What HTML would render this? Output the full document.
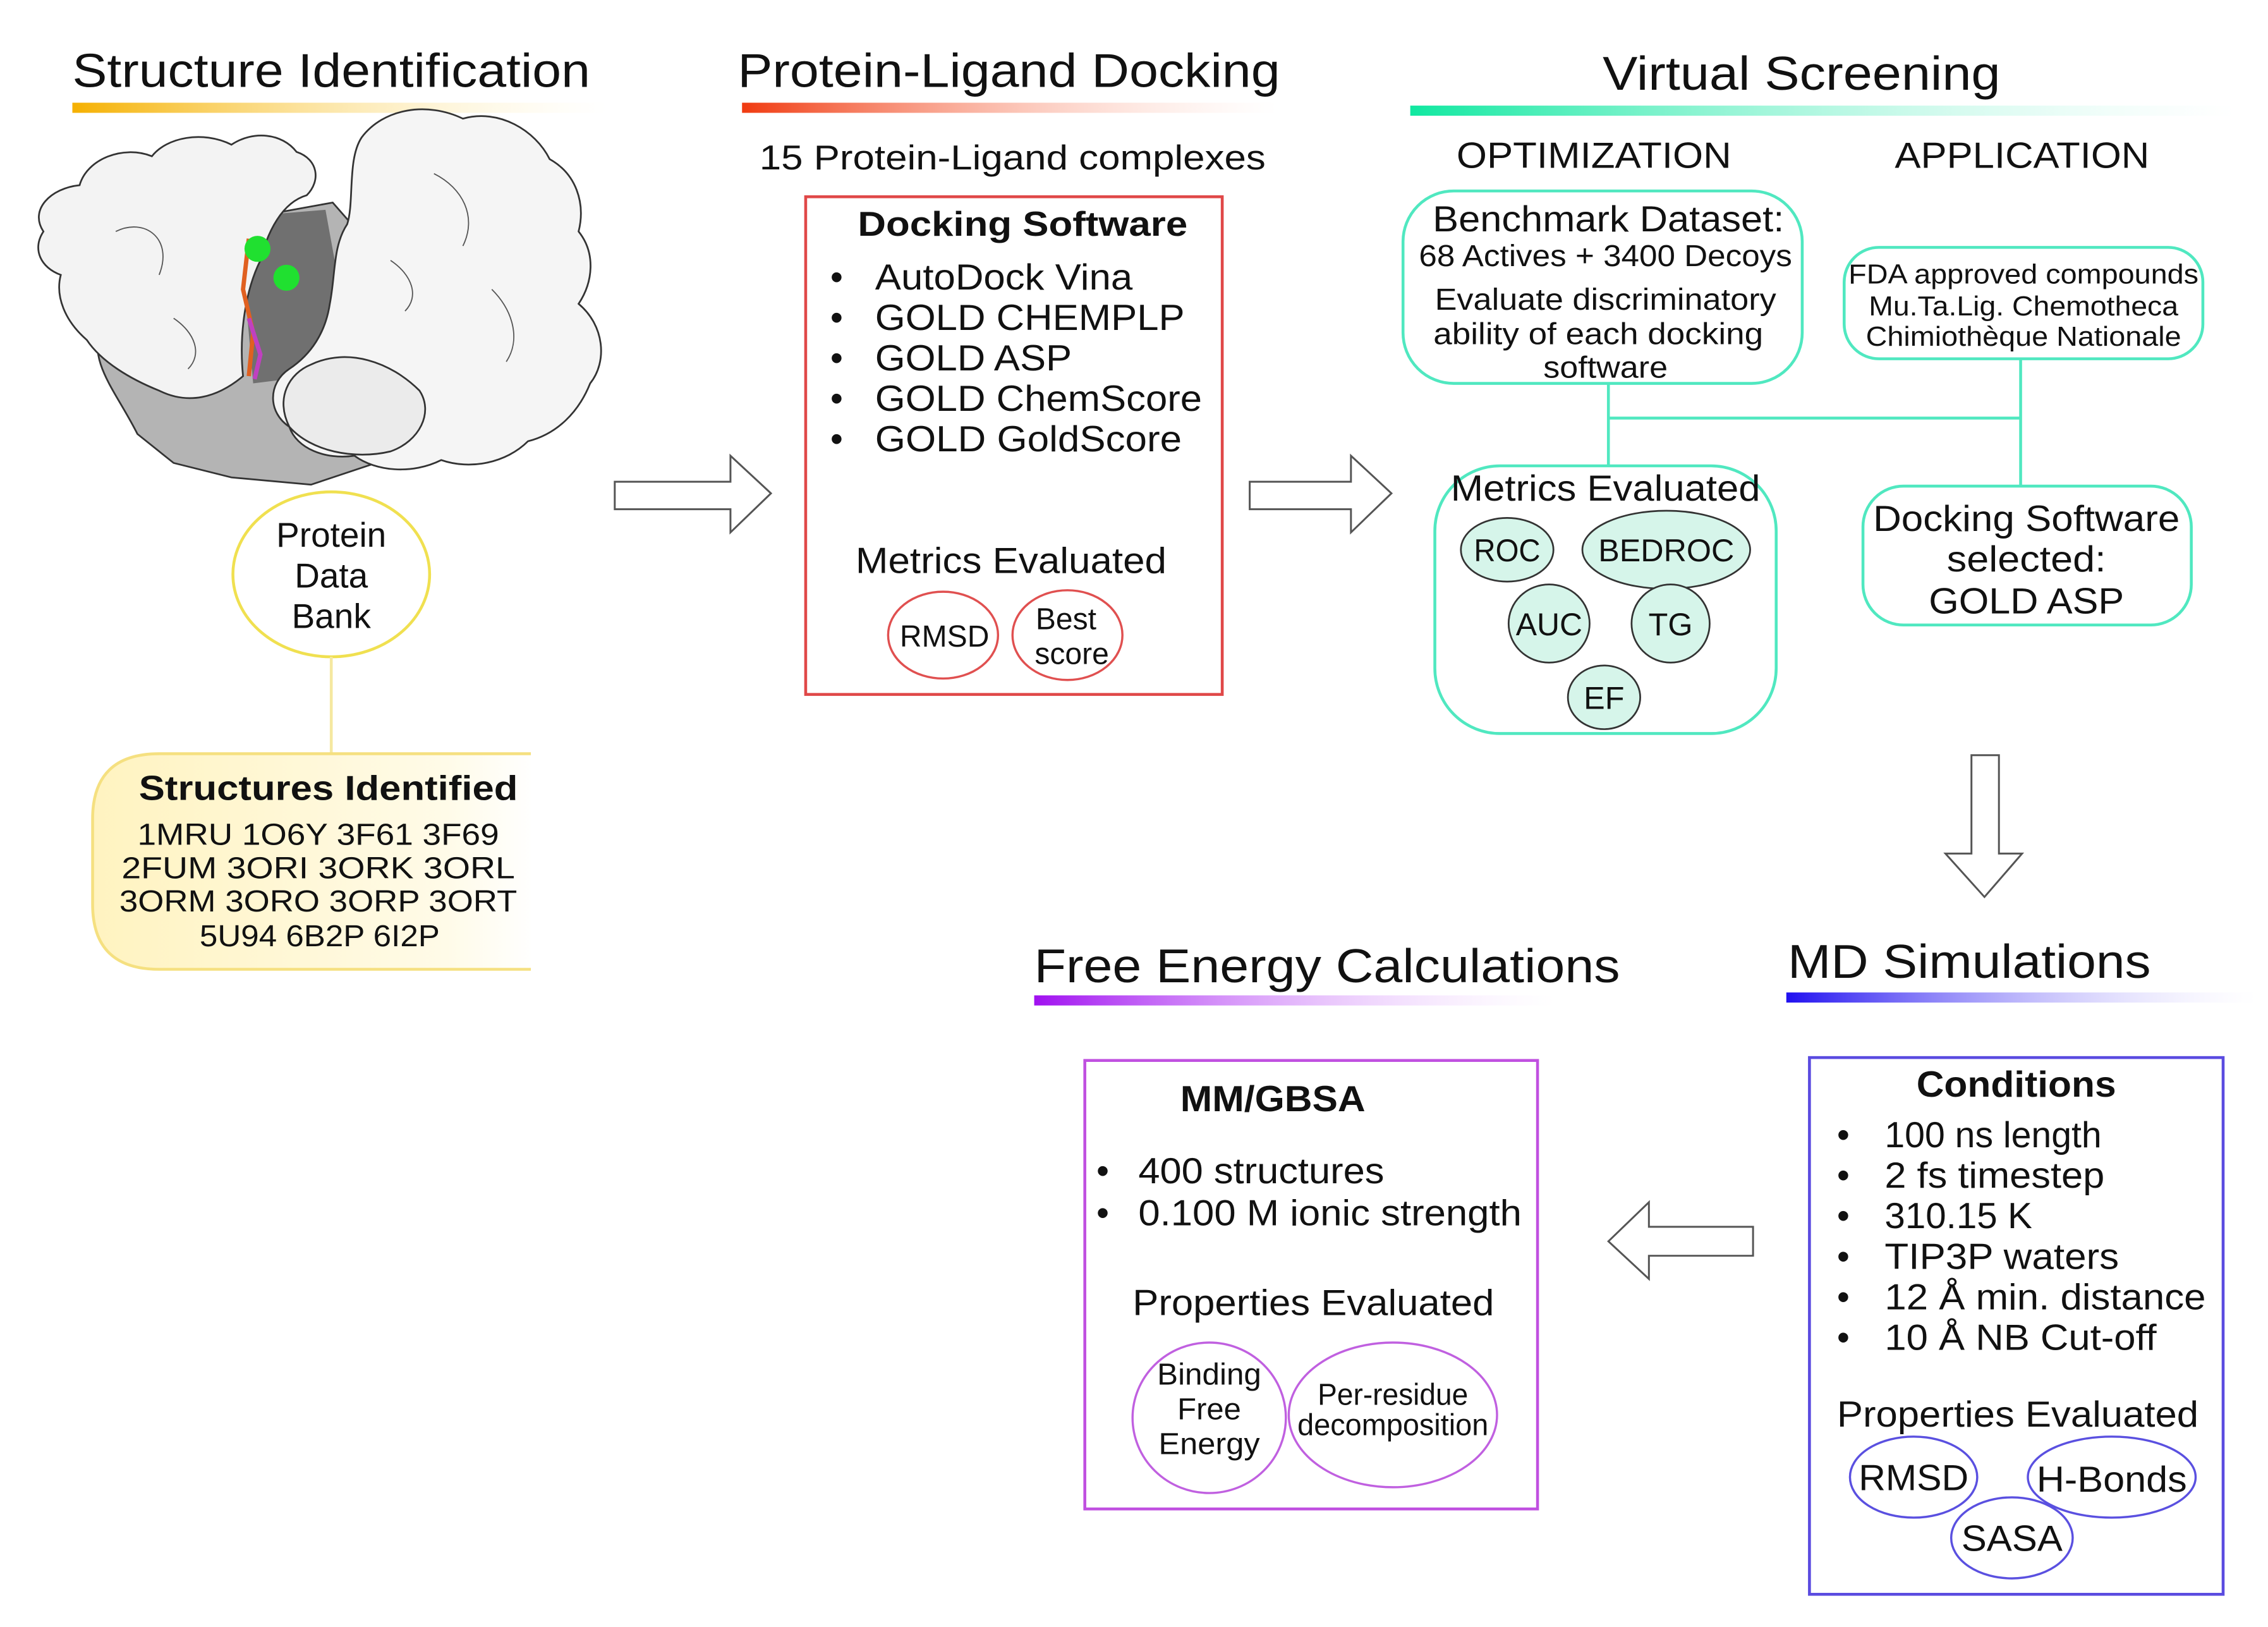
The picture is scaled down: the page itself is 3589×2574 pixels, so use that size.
<!DOCTYPE html>
<html><head><meta charset="utf-8"><style>
html,body{margin:0;padding:0;background:#fff;}
svg{display:block;}
text{font-family:"Liberation Sans",Arial,sans-serif;fill:#111;}
</style></head><body>
<svg width="3589" height="2574" viewBox="0 0 1568 1124.6" xmlns="http://www.w3.org/2000/svg">
<defs>
<linearGradient id="gY" x1="0" x2="1"><stop offset="0" stop-color="#f5b000"/><stop offset="1" stop-color="#fff3c0" stop-opacity="0"/></linearGradient>
<linearGradient id="gR" x1="0" x2="1"><stop offset="0" stop-color="#f03a10"/><stop offset="1" stop-color="#ffd0c0" stop-opacity="0"/></linearGradient>
<linearGradient id="gG" x1="0" x2="1"><stop offset="0" stop-color="#10e8a0"/><stop offset="1" stop-color="#c0f8e8" stop-opacity="0"/></linearGradient>
<linearGradient id="gB" x1="0" x2="1"><stop offset="0" stop-color="#2010f0"/><stop offset="1" stop-color="#d8d0ff" stop-opacity="0"/></linearGradient>
<linearGradient id="gP" x1="0" x2="1"><stop offset="0" stop-color="#a010f0"/><stop offset="1" stop-color="#f0d0ff" stop-opacity="0"/></linearGradient>
<linearGradient id="gS" x1="0" x2="1"><stop offset="0" stop-color="#fff3c0"/><stop offset="0.8" stop-color="#fffbe8"/><stop offset="1" stop-color="#fff"/></linearGradient>
</defs>

<!-- Titles -->
<text x="50" y="60" font-size="33" textLength="358" lengthAdjust="spacingAndGlyphs">Structure Identification</text>
<rect x="50" y="71" width="370" height="7" fill="url(#gY)"/>
<text x="510" y="60" font-size="33" textLength="375" lengthAdjust="spacingAndGlyphs">Protein-Ligand Docking</text>
<rect x="513" y="71" width="370" height="7" fill="url(#gR)"/>
<text x="1108" y="62" font-size="33" textLength="275" lengthAdjust="spacingAndGlyphs">Virtual Screening</text>
<rect x="975" y="73" width="570" height="7" fill="url(#gG)"/>
<text x="715" y="679" font-size="33" textLength="405" lengthAdjust="spacingAndGlyphs">Free Energy Calculations</text>
<rect x="715" y="688" width="360" height="7" fill="url(#gP)"/>
<text x="1236" y="676" font-size="33" textLength="251" lengthAdjust="spacingAndGlyphs">MD Simulations</text>
<rect x="1235" y="686" width="325" height="7" fill="url(#gB)"/>

<!-- Protein -->
<g stroke="#333" stroke-width="1.2">
<path d="M95 300 C80 270 60 250 70 225 C60 210 70 190 90 190 L140 180 L175 150 L230 140 L265 180 L290 250 L260 320 L215 335 L160 330 L120 320 Z" fill="#b4b4b4"/>
<path d="M165 150 L225 145 L235 200 L215 260 L175 265 Z" fill="#707070" stroke="none"/>
<path d="M30 160 C20 145 35 130 55 128 C60 110 85 100 105 108 C115 95 140 90 160 100 C175 90 195 92 205 105 C220 110 222 125 212 135 C195 140 185 160 180 180 C170 200 165 230 168 260 C150 275 130 280 110 270 C90 262 70 250 60 235 C45 222 38 205 42 190 C28 185 22 172 30 160 Z" fill="#f3f3f3"/>
<path d="M250 95 C265 75 295 70 320 82 C345 75 370 90 380 110 C398 120 405 140 400 160 C412 175 410 195 400 210 C418 225 420 250 408 265 C400 285 385 300 365 305 C350 320 325 325 305 318 C285 328 260 326 245 315 C225 318 205 310 200 295 C185 285 185 265 200 255 C215 245 225 230 228 210 C232 190 230 170 240 155 C245 140 240 110 250 95 Z" fill="#f5f5f5"/>
<path d="M200 295 C190 275 200 258 215 252 C240 240 270 250 290 270 C300 285 290 305 270 312 C245 318 215 312 200 295 Z" fill="#ebebeb"/>
</g>
<g stroke="#555" stroke-width="0.8" fill="none">
<path d="M80 160 C100 150 120 165 110 190"/><path d="M300 120 C320 130 330 150 320 170"/><path d="M340 200 C355 215 360 235 350 250"/><path d="M120 220 C135 230 140 245 130 255"/><path d="M270 180 C285 190 290 205 280 215"/>
</g>
<path d="M172 165 L168 200 L175 230 L172 260" stroke="#e06020" stroke-width="3" fill="none"/>
<path d="M172 220 L180 245 L176 262" stroke="#c040c0" stroke-width="3" fill="none"/>
<circle cx="178" cy="172" r="9" fill="#20e030"/>
<circle cx="198" cy="192" r="9" fill="#20e030"/>

<!-- PDB -->
<ellipse cx="229" cy="397" rx="68" ry="57" fill="#fff" stroke="#f0e050" stroke-width="2"/>
<text x="229" y="378" font-size="24" text-anchor="middle">Protein</text>
<text x="229" y="406" font-size="24" text-anchor="middle">Data</text>
<text x="229" y="434" font-size="24" text-anchor="middle">Bank</text>
<line x1="229" y1="454" x2="229" y2="521" stroke="#f5e8a0" stroke-width="2"/>
<path d="M110 521 L370 521 L370 670 L110 670 Q64 670 64 625 L64 566 Q64 521 110 521 Z" fill="url(#gS)" stroke="#f5e080" stroke-width="2"/>
<rect x="367" y="518" width="10" height="155" fill="#fff"/>
<text x="227" y="553" font-size="24" font-weight="bold" text-anchor="middle" textLength="262" lengthAdjust="spacingAndGlyphs">Structures Identified</text>
<g font-size="21" text-anchor="middle">
<text x="220" y="584" textLength="250" lengthAdjust="spacingAndGlyphs">1MRU  1O6Y 3F61 3F69</text>
<text x="220" y="607" textLength="272" lengthAdjust="spacingAndGlyphs">2FUM  3ORI  3ORK  3ORL</text>
<text x="220" y="630" textLength="275" lengthAdjust="spacingAndGlyphs">3ORM 3ORO 3ORP  3ORT</text>
<text x="221" y="654" textLength="166" lengthAdjust="spacingAndGlyphs">5U94 6B2P 6I2P</text>
</g>

<!-- Arrows right -->
<path d="M425 333 L505 333 L505 315 L533 341 L505 368 L505 352 L425 352 Z" fill="#fff" stroke="#555" stroke-width="1.3"/>
<path d="M864 333 L934 333 L934 315 L962 341 L934 368 L934 352 L864 352 Z" fill="#fff" stroke="#555" stroke-width="1.3"/>

<!-- Docking -->
<text x="700" y="117" font-size="24" text-anchor="middle" textLength="350" lengthAdjust="spacingAndGlyphs">15 Protein-Ligand complexes</text>
<rect x="557" y="136" width="288" height="344" fill="#fff" stroke="#e04848" stroke-width="2"/>
<text x="707" y="163" font-size="24" font-weight="bold" text-anchor="middle" textLength="228" lengthAdjust="spacingAndGlyphs">Docking Software</text>
<g font-size="25">
<text x="574" y="200">•</text><text x="605" y="200" textLength="178" lengthAdjust="spacingAndGlyphs">AutoDock Vina</text>
<text x="574" y="228">•</text><text x="605" y="228" textLength="214" lengthAdjust="spacingAndGlyphs">GOLD CHEMPLP</text>
<text x="574" y="256">•</text><text x="605" y="256" textLength="136" lengthAdjust="spacingAndGlyphs">GOLD ASP</text>
<text x="574" y="284">•</text><text x="605" y="284" textLength="226" lengthAdjust="spacingAndGlyphs">GOLD ChemScore</text>
<text x="574" y="312">•</text><text x="605" y="312" textLength="212" lengthAdjust="spacingAndGlyphs">GOLD GoldScore</text>
</g>
<text x="699" y="396" font-size="25" text-anchor="middle" textLength="215" lengthAdjust="spacingAndGlyphs">Metrics Evaluated</text>
<ellipse cx="652" cy="439" rx="38" ry="30" fill="#fff" stroke="#e05050" stroke-width="1.5"/>
<ellipse cx="738" cy="439" rx="38" ry="31" fill="#fff" stroke="#e05050" stroke-width="1.5"/>
<text x="653" y="447" font-size="21" text-anchor="middle">RMSD</text>
<text x="737" y="435" font-size="21" text-anchor="middle">Best</text>
<text x="741" y="459" font-size="21" text-anchor="middle">score</text>

<!-- Virtual screening -->
<text x="1102" y="116" font-size="25" text-anchor="middle" textLength="190" lengthAdjust="spacingAndGlyphs">OPTIMIZATION</text>
<text x="1398" y="116" font-size="25" text-anchor="middle" textLength="176" lengthAdjust="spacingAndGlyphs">APPLICATION</text>
<g stroke="#50e8c0" stroke-width="2" fill="none">
<line x1="1112" y1="265" x2="1112" y2="322"/>
<line x1="1112" y1="289" x2="1397" y2="289"/>
<line x1="1397" y1="248" x2="1397" y2="336"/>
<rect x="970" y="132" width="276" height="133" rx="35"/>
<rect x="1275" y="171" width="248" height="77" rx="24"/>
<rect x="992" y="322" width="236" height="185" rx="45"/>
<rect x="1288" y="336" width="227" height="96" rx="28"/>
</g>
<g text-anchor="middle">
<text x="1112" y="160" font-size="25" textLength="243" lengthAdjust="spacingAndGlyphs">Benchmark Dataset:</text>
<text x="1110" y="184" font-size="21" textLength="258" lengthAdjust="spacingAndGlyphs">68 Actives + 3400 Decoys</text>
<text x="1110" y="214" font-size="21" textLength="236" lengthAdjust="spacingAndGlyphs">Evaluate discriminatory</text>
<text x="1105" y="238" font-size="21" textLength="228" lengthAdjust="spacingAndGlyphs">ability of each docking</text>
<text x="1110" y="261" font-size="21" textLength="86" lengthAdjust="spacingAndGlyphs">software</text>
<text x="1399" y="196" font-size="19" textLength="242" lengthAdjust="spacingAndGlyphs">FDA approved compounds</text>
<text x="1399" y="218" font-size="19" textLength="214" lengthAdjust="spacingAndGlyphs">Mu.Ta.Lig. Chemotheca</text>
<text x="1399" y="239" font-size="19" textLength="218" lengthAdjust="spacingAndGlyphs">Chimiothèque Nationale</text>
<text x="1110" y="346" font-size="25" textLength="214" lengthAdjust="spacingAndGlyphs">Metrics Evaluated</text>
<text x="1401" y="367" font-size="25" textLength="212" lengthAdjust="spacingAndGlyphs">Docking Software</text>
<text x="1401" y="395" font-size="25" textLength="110" lengthAdjust="spacingAndGlyphs">selected:</text>
<text x="1401" y="424" font-size="25" textLength="135" lengthAdjust="spacingAndGlyphs">GOLD ASP</text>
</g>
<g fill="#d6f5ea" stroke="#333" stroke-width="1.2">
<ellipse cx="1042" cy="380" rx="32" ry="22"/>
<ellipse cx="1152" cy="380" rx="58" ry="27"/>
<ellipse cx="1071" cy="431" rx="28" ry="27"/>
<ellipse cx="1155" cy="431" rx="27" ry="27"/>
<ellipse cx="1109" cy="482" rx="25" ry="22"/>
</g>
<g font-size="22" text-anchor="middle">
<text x="1042" y="388" textLength="46" lengthAdjust="spacingAndGlyphs">ROC</text>
<text x="1152" y="388" textLength="94" lengthAdjust="spacingAndGlyphs">BEDROC</text>
<text x="1071" y="439" textLength="46" lengthAdjust="spacingAndGlyphs">AUC</text>
<text x="1155" y="439">TG</text>
<text x="1109" y="490">EF</text>
</g>

<!-- Down arrow -->
<path d="M1363 522 L1382 522 L1382 590 L1398 590 L1372 620 L1345 590 L1363 590 Z" fill="#fff" stroke="#555" stroke-width="1.3"/>
<!-- Left arrow -->
<path d="M1212 848 L1140 848 L1140 831 L1112 858 L1140 884 L1140 868 L1212 868 Z" fill="#fff" stroke="#555" stroke-width="1.3"/>

<!-- MD box -->
<rect x="1251" y="731" width="286" height="371" fill="#fff" stroke="#5a4be0" stroke-width="2"/>
<text x="1394" y="758" font-size="25" font-weight="bold" text-anchor="middle" textLength="138" lengthAdjust="spacingAndGlyphs">Conditions</text>
<g font-size="25">
<text x="1270" y="793">•</text><text x="1303" y="793" textLength="150" lengthAdjust="spacingAndGlyphs">100 ns length</text>
<text x="1270" y="821">•</text><text x="1303" y="821" textLength="152" lengthAdjust="spacingAndGlyphs">2 fs timestep</text>
<text x="1270" y="849">•</text><text x="1303" y="849" textLength="102" lengthAdjust="spacingAndGlyphs">310.15 K</text>
<text x="1270" y="877">•</text><text x="1303" y="877" textLength="162" lengthAdjust="spacingAndGlyphs">TIP3P waters</text>
<text x="1270" y="905">•</text><text x="1303" y="905" textLength="222" lengthAdjust="spacingAndGlyphs">12 Å min. distance</text>
<text x="1270" y="933">•</text><text x="1303" y="933" textLength="188" lengthAdjust="spacingAndGlyphs">10 Å NB Cut-off</text>
</g>
<text x="1395" y="986" font-size="25" text-anchor="middle" textLength="250" lengthAdjust="spacingAndGlyphs">Properties Evaluated</text>
<g fill="none" stroke="#5a50e0" stroke-width="1.5">
<ellipse cx="1323" cy="1021" rx="44" ry="28"/>
<ellipse cx="1460" cy="1021" rx="58" ry="28"/>
<ellipse cx="1391" cy="1063" rx="42" ry="28"/>
</g>
<g font-size="25" text-anchor="middle">
<text x="1323" y="1030" textLength="76" lengthAdjust="spacingAndGlyphs">RMSD</text>
<text x="1460" y="1031" textLength="104" lengthAdjust="spacingAndGlyphs">H-Bonds</text>
<text x="1391" y="1072" textLength="70" lengthAdjust="spacingAndGlyphs">SASA</text>
</g>

<!-- FE box -->
<rect x="750" y="733" width="313" height="310" fill="#fff" stroke="#c050e0" stroke-width="2"/>
<text x="880" y="768" font-size="25" font-weight="bold" text-anchor="middle" textLength="128" lengthAdjust="spacingAndGlyphs">MM/GBSA</text>
<g font-size="25">
<text x="758" y="818">•</text><text x="787" y="818" textLength="170" lengthAdjust="spacingAndGlyphs">400 structures</text>
<text x="758" y="847">•</text><text x="787" y="847" textLength="265" lengthAdjust="spacingAndGlyphs">0.100 M ionic strength</text>
</g>
<text x="908" y="909" font-size="25" text-anchor="middle" textLength="250" lengthAdjust="spacingAndGlyphs">Properties Evaluated</text>
<g fill="none" stroke="#c060e0" stroke-width="1.5">
<ellipse cx="836" cy="980" rx="53" ry="52"/>
<ellipse cx="963" cy="978" rx="72" ry="50"/>
</g>
<g font-size="21" text-anchor="middle">
<text x="836" y="957" textLength="72" lengthAdjust="spacingAndGlyphs">Binding</text>
<text x="836" y="981" textLength="44" lengthAdjust="spacingAndGlyphs">Free</text>
<text x="836" y="1005" textLength="70" lengthAdjust="spacingAndGlyphs">Energy</text>
<text x="963" y="971" textLength="104" lengthAdjust="spacingAndGlyphs">Per-residue</text>
<text x="963" y="992" textLength="132" lengthAdjust="spacingAndGlyphs">decomposition</text>
</g>
</svg>
</body></html>
